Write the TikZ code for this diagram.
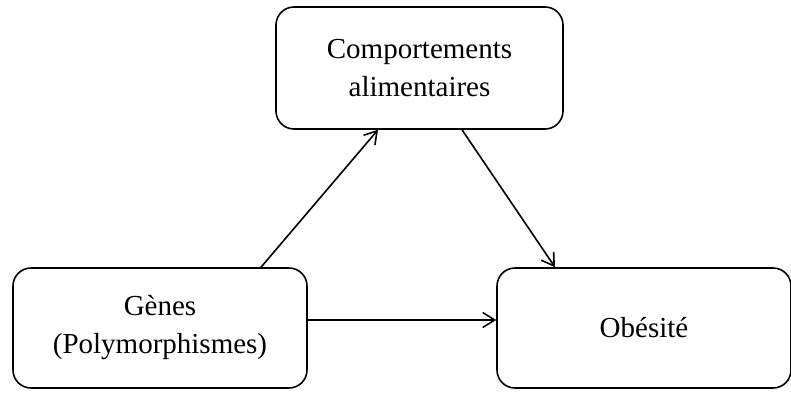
\documentclass[tikz,border=0pt]{standalone}
\usepackage{fontspec}
\setmainfont{Liberation Serif}
\usetikzlibrary{arrows.meta}
\begin{document}
\begin{tikzpicture}[x=1pt,y=1pt]
		\useasboundingbox (0,0) rectangle (791,392);
		\tikzstyle{block} =[draw, line width=1.6pt, minimum width=294pt, minimum height=120pt, align=center, rounded corners=18pt, font=\fontsize{29}{38}\selectfont];
		\tikzstyle{link} =[line width=1.6pt, -{Straight Barb[length=12pt,width=15pt,line width=1.6pt]}];
		\node[block] (genes) at (160,64) {G\`enes\\(Polymorphismes)};
		\node[block, right of = genes, node distance=484pt] (obesite) {Ob\'esit\'e};
		\node[block, minimum width=287pt, minimum height=122pt] (comport) at (419.5,324) {Comportements\\alimentaires};
		
		\draw[link] ([xshift=101pt]genes.north) -- ([xshift=-41.5pt]comport.south);
		\draw[link] ([xshift=42.5pt]comport.south) -- ([xshift=-89pt]obesite.north);
		\draw[link] ([yshift=8pt]genes.east) -- ([yshift=8pt]genes.east -| obesite.west);
	\end{tikzpicture}
\end{document}
